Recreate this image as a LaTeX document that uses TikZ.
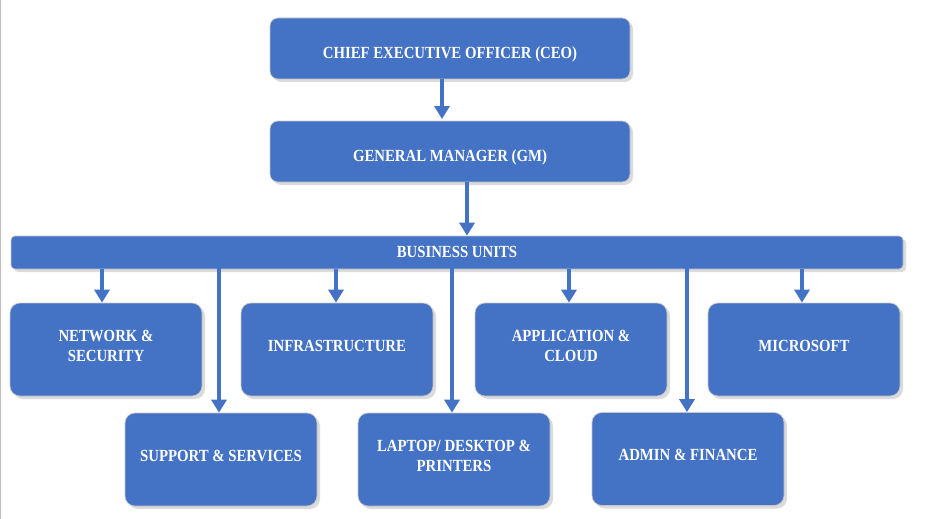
\documentclass[tikz,border=0pt]{standalone}
\usepackage{fontspec}
\setmainfont[FakeStretch=0.87]{Liberation Serif}
\usetikzlibrary{arrows.meta,shadows}
\definecolor{unitblue}{HTML}{4472C4}
\tikzset{
  box/.style={fill=unitblue, draw=gray!45, line width=0.7pt, inner sep=0pt,
    drop shadow={shadow xshift=3pt, shadow yshift=-3pt, opacity=0.14, fill=black}},
  txt/.style={text=white, font=\bfseries\fontsize{17}{20}\selectfont, align=center, inner sep=0pt},
  head/.style={box, minimum width=360pt, minimum height=61pt, rounded corners=8pt},
  unit/.style={box, minimum width=192pt, minimum height=93pt, rounded corners=10pt},
  link/.style={unitblue, line width=4pt, -{Triangle[width=15pt,length=13pt]}, shorten >=0pt}
}
\begin{document}
\begin{tikzpicture}[x=1pt,y=-1pt]
\useasboundingbox (0,0) rectangle (932,519);
\draw[gray!50, line width=1.2pt] (0.6,0) -- (0.6,519);
% top
\node[head, label={[txt, yshift=-5.5pt]center:CHIEF EXECUTIVE OFFICER (CEO)}] (ceo) at (450,48.5) {};
\node[head, label={[txt, yshift=-5.5pt]center:GENERAL MANAGER (GM)}] (gm) at (450,151.5) {};
\node[box, minimum width=892pt, minimum height=33pt, rounded corners=4pt,
  label={[txt, yshift=0.5pt]center:BUSINESS UNITS}] (bu) at (457,252.5) {};
% units, first row
\node[unit, label={[txt, yshift=4pt]center:NETWORK \&\\SECURITY}] (net) at (106,349.5) {};
\node[unit, label={[txt, yshift=4pt]center:INFRASTRUCTURE}] (infra) at (337,349.5) {};
\node[unit, label={[txt, yshift=4pt]center:APPLICATION \&\\CLOUD}] (app) at (571,349.5) {};
\node[unit, label={[txt, yshift=4pt]center:MICROSOFT}] (ms) at (804,349.5) {};
% units, second row
\node[unit, label={[txt, yshift=4pt]center:SUPPORT \& SERVICES}] (sup) at (221,459.5) {};
\node[unit, label={[txt, yshift=4pt]center:LAPTOP/ DESKTOP \&\\PRINTERS}] (lap) at (454,459.5) {};
\node[unit, label={[txt, yshift=4pt]center:ADMIN \& FINANCE}] (adm) at (688,459) {};
% arrows
\draw[link] (442,79) -- (442,119);
\draw[link] (gm.south -| 467,0) -- (bu.north -| 467,0);
\draw[link] (bu.south -| net) ++(-4,0) -- ([xshift=-4pt]net.north);
\draw[link] (bu.south -| infra) ++(-1,0) -- ([xshift=-1pt]infra.north);
\draw[link] (bu.south -| app) ++(-2,0) -- ([xshift=-2pt]app.north);
\draw[link] (bu.south -| ms) ++(-2,0) -- ([xshift=-2pt]ms.north);
\draw[link] ([yshift=1pt]bu.south -| 219,0) -- (sup.north -| 219,0);
\draw[link] ([yshift=1pt]bu.south -| 452,0) -- (lap.north -| 452,0);
\draw[link] ([yshift=1pt]bu.south -| 687,0) -- (adm.north -| 687,0);
\end{tikzpicture}
\end{document}
